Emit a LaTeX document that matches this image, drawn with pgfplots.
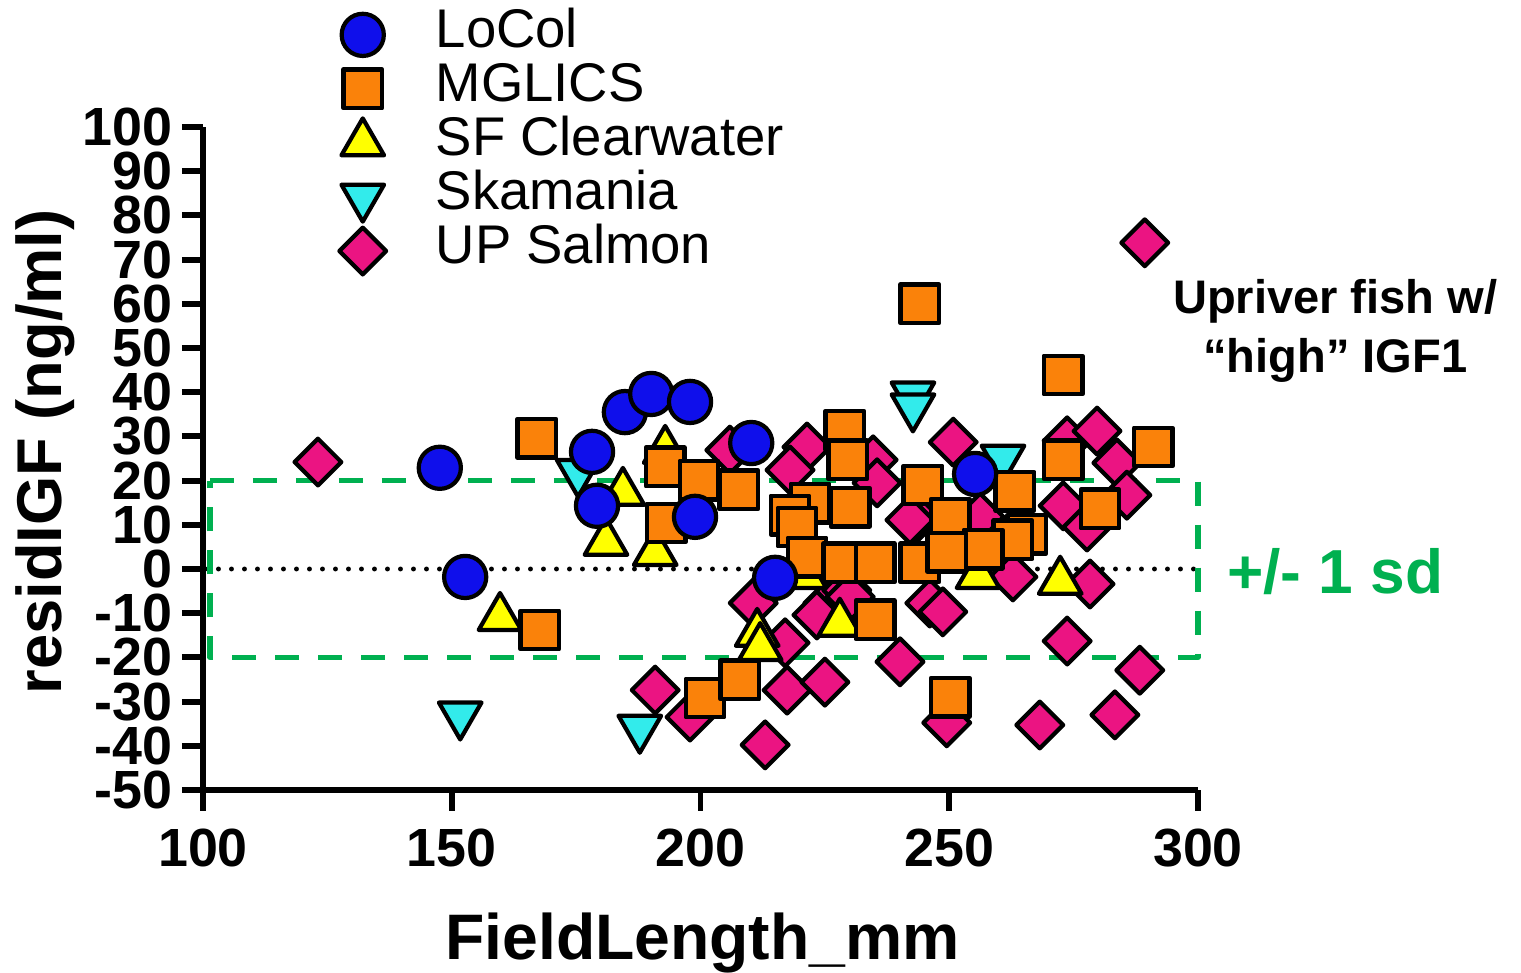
\documentclass[border=0pt]{standalone}
\usepackage{fontspec}
\setmainfont{Liberation Sans}
\usepackage{pgfplots}
\pgfplotsset{compat=1.18}

\definecolor{cBlue}{RGB}{15,15,235}
\definecolor{cOrange}{RGB}{250,130,10}
\definecolor{cYellow}{RGB}{255,255,0}
\definecolor{cCyan}{RGB}{50,235,235}
\definecolor{cPink}{RGB}{235,20,130}
\definecolor{cGreen}{RGB}{0,176,80}

\begin{document}
\begin{tikzpicture}[line join=round]
\begin{axis}[
  scale only axis, width=9.95cm, height=6.63cm,
  xmin=100, xmax=300, ymin=-50, ymax=100,
  axis x line*=bottom, axis y line*=left,
  axis line style={line width=1.7pt, -},
  xtick={100,150,200,250,300},
  ytick={-50,-40,...,100},
  tick align=outside, major tick length=2.1mm,
  tick style={line width=1.7pt, black},
  /pgf/number format/assume math mode=true,
  tick label style={font=\bfseries\fontsize{15.3}{15.3}\selectfont},
  xticklabel style={yshift=-0.6mm},
  yticklabel style={xshift=0.3mm, inner ysep=0pt},
  xlabel={FieldLength\_mm},
  ylabel={residIGF (ng/ml)},
  xlabel style={at={(axis description cs:0.502,-0.256)}, anchor=base,
    font=\bfseries\fontsize{18.3}{18.3}\selectfont},
  ylabel style={at={(axis description cs:-0.159,0.51)}, anchor=center,
    font=\bfseries\fontsize{18}{18}\selectfont},
  clip=false,
  reverse legend,
  legend style={draw=none, fill=none, inner sep=0pt,
    at={(axis description cs:0.1297,1.18)}, anchor=north west,
    font=\fontsize{15.5}{15.5}\selectfont, row sep=0.3pt,
    nodes={inner xsep=0pt, inner ysep=0pt, text height=3.9mm, text depth=1.4mm}},
  legend cell align=left,
  legend image code/.code={%
    \path[draw=none, fill=none] (0cm,0cm) rectangle (1.03cm,0cm);
    \draw[only marks] plot coordinates {(0.3cm,0cm)};},
]
\coordinate (bl) at (rel axis cs:0,0);
\coordinate (tr) at (rel axis cs:1,1);

% zero line
\addplot[forget plot, no marks, sharp plot, black, line width=1.4pt,
  line cap=round, dash pattern=on 0pt off 1.3mm] coordinates {(100.5,0) (300,0)};

% UP Salmon
\addplot[only marks, mark=square*, mark size=4.7pt, draw=black, line width=1.2pt,
  fill=cPink, mark options={rotate=45}] coordinates {
(123.1,24.2) (289.3,73.8) (205.9,26.9) (221.4,27.6) (218.0,22.4) (234.7,24.7)
(235.5,19.5) (250.8,28.7) (243.5,11.5) (210.6,-7.7) (217.0,-16.7) (217.4,-27.4)
(225.6,-7.7) (229.4,-4.8) (223.4,-10.4) (230.1,-6.3) (190.9,-27.4) (197.9,-33.5)
(213.0,-39.8) (225.0,-25.6) (240.1,-21.0) (246.1,-7.7) (248.7,-9.7) (249.5,-34.8)
(262.8,-1.8) (278.3,-3.4) (273.7,-16.3) (288.3,-22.9) (283.3,-33.0) (268.2,-35.3)
(273.7,29.0) (279.7,31.2) (283.7,24.0) (272.9,14.3) (277.7,9.5) (285.7,16.7)
(256.2,11.8) (242.1,11.1)
};
\addlegendentry{UP Salmon}

% Skamania
\addplot[only marks, mark=triangle*, mark size=7pt, draw=black, line width=1.2pt,
  fill=cCyan, mark options={rotate=180}] coordinates {
(175.4,21.9) (151.7,-33.0) (187.8,-36.0) (242.7,39.4) (242.7,36.7) (260.8,25.1)
};
\addlegendentry{Skamania}

% SF Clearwater
\addplot[only marks, mark=triangle*, mark size=7pt, draw=black, line width=1.2pt,
  fill=cYellow] coordinates {
(159.7,-11.0) (181.0,6.0) (184.4,17.3) (190.9,3.7) (192.9,26.8) (211.4,-14.6)
(212.0,-17.8) (228.0,-12.3) (221.0,-1.5) (255.8,-1.5) (272.3,-2.8)
};
\addlegendentry{SF Clearwater}

% MGLICS
\addplot[only marks, mark=square*, mark size=5.5pt, draw=black, line width=1.2pt,
  fill=cOrange] coordinates {
(167.1,29.6) (167.7,-13.8) (192.9,23.1) (199.7,20.1) (207.7,17.9) (193.1,10.4)
(200.9,-29.2) (207.9,-25.1) (229.0,31.4) (229.6,24.7) (222.0,14.9) (230.1,14.0)
(218.0,12.2) (219.4,9.5) (221.4,2.7) (228.6,1.4) (235.1,1.4) (244.1,1.4)
(235.1,-11.5) (244.7,19.0) (250.2,11.5) (244.1,60.0) (250.2,-29.0) (272.9,43.9)
(291.0,27.6) (272.9,24.7) (263.2,17.6) (280.3,13.6) (265.6,7.9) (262.8,6.6)
(256.8,4.5) (249.5,3.8)
};
\addlegendentry{MGLICS}

% LoCol
\addplot[only marks, mark=*, mark size=6pt, draw=black, line width=1.2pt,
  fill=cBlue] coordinates {
(147.6,22.9) (152.7,-1.8) (178.2,26.5) (179.2,14.3) (184.8,35.5) (190.1,39.6)
(197.9,37.8) (198.9,11.8) (210.2,28.5) (215.0,-2.0) (255.2,21.5)
};
\addlegendentry{LoCol}

% +/- 1 sd band
\addplot[forget plot, no marks, sharp plot, cGreen, line width=1.5pt,
  dash pattern=on 2.4mm off 1.9mm] coordinates {(101.4,20) (300,20) (300,-20) (101.4,-20) (101.4,20)};

\node[anchor=base, text=cGreen, font=\bfseries\fontsize{17.7}{17.7}\selectfont]
  at (axis description cs:1.138,0.297) {+/- 1 sd};
\node[anchor=base, font=\bfseries\fontsize{13.4}{13.4}\selectfont]
  at (axis description cs:1.138,0.719) {Upriver fish w/};
\node[anchor=base, font=\bfseries\fontsize{13.4}{13.4}\selectfont]
  at (axis description cs:1.138,0.630) {“high” IGF1};
\end{axis}
\pgfresetboundingbox
\path ([shift={(-2.03cm,-1.83cm)}]bl) rectangle ([shift={(3.23cm,1.27cm)}]tr);
\end{tikzpicture}
\end{document}
